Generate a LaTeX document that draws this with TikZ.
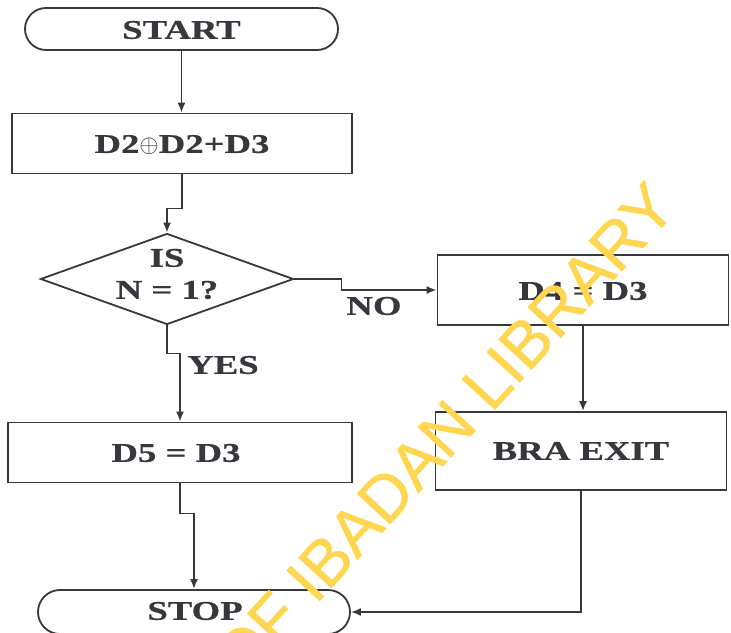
\documentclass[tikz,border=0pt]{standalone}
\usepackage{fontspec}
\setmainfont{Liberation Serif}[FakeStretch=1.36,BoldFeatures={FakeBold=0.6}]
\newfontfamily\wmfont{Liberation Sans}[FakeBold=0.8]
\usetikzlibrary{shapes.geometric,arrows.meta,calc}
\definecolor{ink}{RGB}{55,55,62}
\definecolor{wmyellow}{RGB}{255,214,80}
\tikzset{
  txt/.style={text=ink,font=\fontsize{27}{31}\selectfont\bfseries,inner sep=0pt,align=center},
  term/.style={draw=ink,line width=1.8pt,rounded corners=21pt,inner sep=0pt},
  procbox/.style={draw=ink,line width=1.8pt,inner sep=0pt},
  decbox/.style={draw=ink,line width=1.8pt,diamond,inner sep=0pt},
  conn/.style={draw=ink,line width=1.8pt},
  arr/.style={conn,-{Latex[length=10pt,width=8pt]}},
  wm/.style={text=wmyellow,font=\wmfont\fontsize{65}{75}\selectfont,inner sep=0pt}
}
\begin{document}
\begin{tikzpicture}[x=1pt,y=-1pt]
\useasboundingbox (0,0) rectangle (731,632);
\clip (0,0) rectangle (731,632);
\fill[white] (0,0) rectangle (731,632);
% shapes
\node[term,minimum width=313pt,minimum height=42pt] (start) at (181.5,29) {};
\node[txt] (startT) at (181.5,30) {START};
\node[procbox,minimum width=340pt,minimum height=60pt] (b1) at (182,143.5) {};
\node[txt] (b1T) at (182,145) {D2$\oplus$D2+D3};
\node[decbox,minimum width=253pt,minimum height=91pt] (dec) at (167,279) {};
\node[txt,font=\fontsize{27}{32}\selectfont\bfseries] (decT) at (167,274) {IS\\N = 1?};
\node[procbox,minimum width=291pt,minimum height=70pt] (d4) at (583,290) {};
\node[txt] (d4T) at (583,291) {D4 = D3};
\node[procbox,minimum width=291pt,minimum height=78pt] (bra) at (581,451) {};
\node[txt] (braT) at (581,451) {BRA EXIT};
\node[procbox,minimum width=344pt,minimum height=60pt] (d5) at (180,452.5) {};
\node[txt] (d5T) at (176,453) {D5 = D3};
\node[term,minimum width=312pt,minimum height=44pt,rounded corners=22pt] (stop) at (194,612) {};
\node[txt] (stopT) at (195,611) {STOP};
% connectors
\draw[arr] (start.south) -- (start.south |- b1.north);
\draw[arr] (b1.south) -- ++(0,34) -| (dec.north);
\draw[arr] (dec.east) -- ++(47,0) |- (d4.west);
\draw[arr] (dec.south) -- ++(0,28) -| (d5.north);
\draw[arr] (d4.south) -- (d4.south |- bra.north);
\draw[arr] (d5.south) -- ++(0,30) -| (stop.north);
\draw[arr] (bra.south) |- (stop.east);
% labels
\node[txt] (no) at (374,306) {NO};
\node[txt] (yes) at (223,365) {YES};
% watermark
\node[wm,rotate=47.5] (wmark) at (444,432) {OF IBADAN LIBRARY};
\end{tikzpicture}
\end{document}
